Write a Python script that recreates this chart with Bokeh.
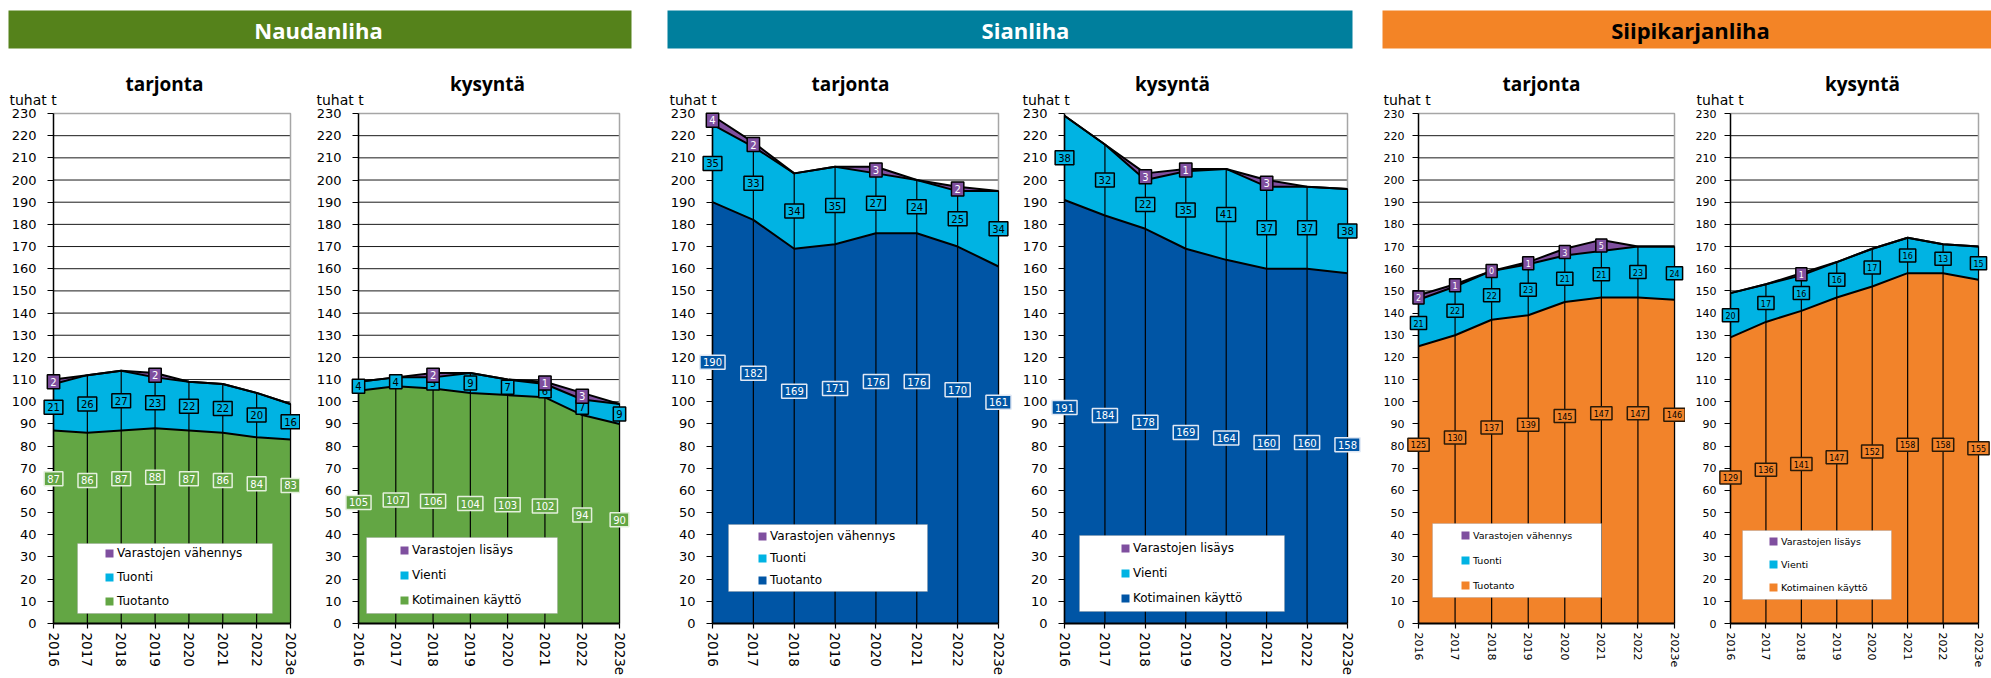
import numpy as np
from bokeh.plotting import figure
from bokeh.models import Range1d, FixedTicker, Label, Legend, LegendItem, BoxAnnotation
from bokeh.layouts import column, row
from bokeh.embed import file_html
from bokeh.resources import INLINE

# ---------------- data (tuhat t) ----------------
years = ["2016", "2017", "2018", "2019", "2020", "2021", "2022", "2023e"]

# Naudanliha
naud_tuotanto = [87, 86, 87, 88, 87, 86, 84, 83]
naud_tuonti = [21, 26, 27, 23, 22, 22, 20, 16]
naud_var_vahennys = [2, None, None, 2, None, None, None, None]
naud_kotimainen = [105, 107, 106, 104, 103, 102, 94, 90]
naud_vienti = [4, 4, 5, 9, 7, 6, 7, 9]
naud_var_lisays = [None, None, 2, None, None, 1, 3, None]

# Sianliha
sian_tuotanto = [190, 182, 169, 171, 176, 176, 170, 161]
sian_tuonti = [35, 33, 34, 35, 27, 24, 25, 34]
sian_var_vahennys = [4, 2, None, None, 3, None, 2, None]
sian_kotimainen = [191, 184, 178, 169, 164, 160, 160, 158]
sian_vienti = [38, 32, 22, 35, 41, 37, 37, 38]
sian_var_lisays = [None, None, 3, 1, None, 3, None, None]

# Siipikarjanliha
siipi_tuotanto = [125, 130, 137, 139, 145, 147, 147, 146]
siipi_tuonti = [21, 22, 22, 23, 21, 21, 23, 24]
siipi_var_vahennys = [2, 1, 0, 1, 3, 5, None, None]
siipi_kotimainen = [129, 136, 141, 147, 152, 158, 158, 155]
siipi_vienti = [20, 17, 16, 16, 17, 16, 13, 15]
siipi_var_lisays = [None, None, 1, None, None, None, None, None]

supply_names = ["Tuotanto", "Tuonti", "Varastojen vähennys"]
demand_names = ["Kotimainen käyttö", "Vienti", "Varastojen lisäys"]
headers = ["Naudanliha", "Sianliha", "Siipikarjanliha"]
y_ticks = list(range(0, 231, 10))

# ---------------- styles ----------------
GREEN = "#63A644"
CYAN = "#00B3E3"
PURPLE = "#7F4F9F"
BLUE = "#0055A5"
ORANGE = "#F2832A"
HEAD_GREEN = "#55821B"
HEAD_TEAL = "#007F9D"
HEAD_ORANGE = "#F38426"

PAGE_W = 1991
ROW_TOP = 52          # page y where the chart row starts
ROW_BOTTOM = 678      # page y where the chart row ends
FRAME_TOP = 113       # page y of value 230
FRAME_BOTTOM = 623    # page y of value 0
FIG_H = ROW_BOTTOM - ROW_TOP
YMAX = y_ticks[-1]
NUM = "DejaVu Sans"
BOLD = "Open Sans"


def make_panel(base, mid, top, names, base_color, base_lbl, fig_left, fig_w,
               frame_left, frame_right, title, title_cx, unit_x, lbox, sq_x,
               rows, frac, small=False):
    n = len(years) - 1
    fig_right = fig_left + fig_w
    fw = frame_right - frame_left
    fh = FRAME_BOTTOM - FRAME_TOP
    xs_per_px = n / fw
    ys_per_px = YMAX / fh

    def px2x(px):
        return (px - frame_left) * xs_per_px

    def px2y(py):
        return (FRAME_BOTTOM - py) * ys_per_px

    p = figure(width=fig_w, height=FIG_H,
               x_range=Range1d(px2x(fig_left), px2x(fig_right)),
               y_range=Range1d(px2y(ROW_BOTTOM), px2y(ROW_TOP)),
               min_border=0, min_border_left=0, min_border_right=0,
               min_border_top=0, min_border_bottom=0,
               toolbar_location=None, tools="", output_backend="svg")
    p.outline_line_color = None
    p.background_fill_color = "white"
    p.border_fill_color = "white"
    p.xgrid.visible = False
    p.ygrid.visible = False

    x = np.arange(len(years))
    b = np.array(base, dtype=float)
    m = np.array(mid, dtype=float)
    t = np.array([0 if v is None else v for v in top], dtype=float)
    s1 = b
    s2 = b + m
    s3 = s2 + t

    # horizontal gridlines and plot-area border
    g = np.array(y_ticks[1:-1], dtype=float)
    p.segment(x0=0, x1=n, y0=g, y1=g, line_color="#1a1a1a", line_width=1)
    p.line([0, n, n], [YMAX, YMAX, 0], line_color="#A6A6A6", line_width=1.5)

    r1 = p.varea(x=x, y1=0, y2=s1, fill_color=base_color)
    r2 = p.varea(x=x, y1=s1, y2=s2, fill_color=CYAN)
    r3 = p.varea(x=x, y1=s2, y2=s3, fill_color=PURPLE)
    for s in (s1, s2, s3):
        p.line(x, s, line_color="black", line_width=2)
    p.segment(x0=x, y0=0, x1=x, y1=s3, line_color="black", line_width=1.2)

    tick_fs = "11px" if small else "13px"
    xtick_fs = "11px" if small else "13.5px"
    p.yaxis.ticker = FixedTicker(ticks=y_ticks)
    p.xaxis.ticker = FixedTicker(ticks=list(range(len(years))))
    p.xaxis.major_label_overrides = {i: y for i, y in enumerate(years)}
    p.xaxis.major_label_orientation = "vertical"
    for ax in (p.xaxis[0], p.yaxis[0]):
        ax.fixed_location = 0
        ax.axis_line_color = "black"
        ax.major_tick_line_color = "black"
        ax.major_tick_line_width = 1.2
        ax.major_tick_in = 0
        ax.minor_tick_line_color = None
        ax.major_label_text_font = NUM
        ax.major_label_text_color = "black"
    p.xaxis.bounds = (0, n)
    p.yaxis.bounds = (0, YMAX)
    p.xaxis.major_label_text_font_size = xtick_fs
    p.yaxis.major_label_text_font_size = tick_fs
    p.xaxis.axis_line_width = 2
    p.yaxis.axis_line_width = 1.5
    p.xaxis.major_tick_out = 5
    p.xaxis.major_label_standoff = 4
    p.yaxis.major_tick_out = 6
    p.yaxis.major_label_standoff = 8 if small else 11

    # legend box + legend
    p.add_layout(BoxAnnotation(left=px2x(lbox[0]), right=px2x(lbox[2]),
                               top=px2y(lbox[1]), bottom=px2y(lbox[3]),
                               fill_color="white", fill_alpha=1,
                               line_color="#8C8C8C", line_width=1))
    lh = 12 if small else 14
    pitch = (rows[1] - rows[0]) / 2
    leg_bottom = rows[1] + lh / 2
    legend = Legend(items=[LegendItem(label=names[2], renderers=[r3]),
                           LegendItem(label=names[1], renderers=[r2]),
                           LegendItem(label=names[0], renderers=[r1])],
                    location=(sq_x - fig_left - 1, ROW_BOTTOM - leg_bottom),
                    background_fill_alpha=0, border_line_color=None, padding=0, margin=0,
                    spacing=int(round(pitch - lh)), label_height=lh,
                    glyph_width=10, glyph_height=10, label_standoff=3,
                    label_text_font=NUM, label_text_font_size="9.5px" if small else "12px",
                    label_text_color="black")
    p.add_layout(legend)

    # data labels
    lfs = "8px" if small else "10px"
    styles = [base_lbl,
              dict(background_fill_color=CYAN, border_line_color="black", text_color="black"),
              dict(background_fill_color=PURPLE, border_line_color="black", text_color="white")]
    for i in range(len(years)):
        entries = [(base[i], frac * b[i], styles[0]),
                   (mid[i], s1[i] + m[i] / 2, styles[1]),
                   (top[i], s2[i] + t[i] / 2, styles[2])]
        for v, yy, st in entries:
            if v is None:
                continue
            p.add_layout(Label(x=i, y=yy, text=str(v), text_align="center", text_baseline="middle",
                               text_font=NUM, text_font_size=lfs, border_line_width=1.5,
                               padding=3, **st))

    # unit and panel title
    p.add_layout(Label(x=px2x(unit_x), y=px2y(99), text="tuhat t", text_align="left",
                       text_baseline="alphabetic", text_font=NUM, text_font_size="14px",
                       text_color="black"))
    p.add_layout(Label(x=px2x(title_cx), y=px2y(83), text=title, text_align="center",
                       text_baseline="alphabetic", text_font=BOLD, text_font_style="bold",
                       text_font_size="19px", text_color="black"))
    return p


green_lbl = dict(background_fill_color=GREEN, border_line_color="#E4F0DC", text_color="white")
blue_lbl = dict(background_fill_color=BLUE, border_line_color="#E0E8F4", text_color="white")
orange_lbl = dict(background_fill_color=ORANGE, border_line_color="#2a1a08", text_color="black")

p1 = make_panel(naud_tuotanto, naud_tuonti, naud_var_vahennys, supply_names, GREEN, green_lbl,
                0, 300, 53, 290, "tarjonta", 164, 9, (77, 543, 272, 613), 105, (554, 601), 0.75)
p2 = make_panel(naud_kotimainen, naud_vienti, naud_var_lisays, demand_names, GREEN, green_lbl,
                300, 360, 358, 619, "kysyntä", 487, 316, (366, 537, 557, 613), 400, (550, 600), 0.52)
p3 = make_panel(sian_tuotanto, sian_tuonti, sian_var_vahennys, supply_names, BLUE, blue_lbl,
                660, 355, 712, 998, "tarjonta", 850, 669, (728, 524, 927, 591), 758, (535, 580), 0.62)
p4 = make_panel(sian_kotimainen, sian_vienti, sian_var_lisays, demand_names, BLUE, blue_lbl,
                1015, 355, 1064, 1347, "kysyntä", 1172, 1022, (1079, 535, 1284, 611), 1121, (548, 598), 0.51)
p5 = make_panel(siipi_tuotanto, siipi_tuonti, siipi_var_vahennys, supply_names, ORANGE, orange_lbl,
                1370, 315, 1418, 1674, "tarjonta", 1541, 1383, (1432, 523, 1601, 597), 1461, (535, 585), 0.645,
                small=True)
p6 = make_panel(siipi_kotimainen, siipi_vienti, siipi_var_lisays, demand_names, ORANGE, orange_lbl,
                1685, PAGE_W - 1685, 1730, 1978, "kysyntä", 1862, 1696, (1742, 530, 1891, 599), 1769, (541, 587),
                0.51, small=True)

# ---------------- header band ----------------
HH = ROW_TOP
h = figure(width=PAGE_W, height=HH, x_range=Range1d(0, PAGE_W), y_range=Range1d(HH, 0),
           min_border=0, toolbar_location=None, tools="", output_backend="svg")
h.axis.visible = False
h.grid.visible = False
h.outline_line_color = None
head_left = [8, 667, 1382]
head_right = [631, 1352, 1991]
head_text_x = [318, 1025, 1690]
head_colors = [HEAD_GREEN, HEAD_TEAL, HEAD_ORANGE]
head_text_colors = ["white", "white", "black"]
h.quad(left=head_left, right=head_right, bottom=48, top=10, fill_color=head_colors, line_color=None)
for name, tx, tc in zip(headers, head_text_x, head_text_colors):
    h.add_layout(Label(x=tx, y=29, text=name, text_align="center", text_baseline="middle",
                       text_font=BOLD, text_font_style="bold", text_font_size="22px", text_color=tc))

layout = column(h, row(p1, p2, p3, p4, p5, p6))
open("out.html", "w").write(file_html(layout, INLINE, title="Liha: tarjonta ja kysyntä"))
